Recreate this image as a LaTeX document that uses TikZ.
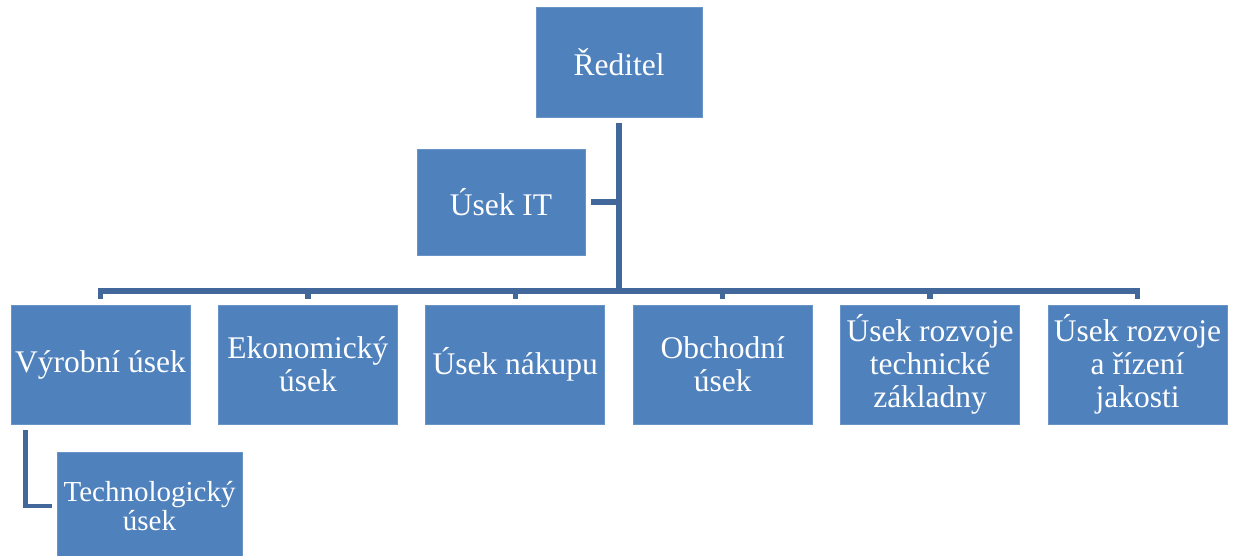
\documentclass[tikz,border=0pt]{standalone}
\usepackage{fontspec}
\setmainfont{Liberation Serif}
\definecolor{boxblue}{HTML}{4F81BD}
\definecolor{linkblue}{HTML}{41679B}
\tikzset{
  orgbox/.style={fill=boxblue, draw=boxblue!85!white, line width=0.8pt, text=white, align=center,
    inner sep=0pt, font=\fontsize{31.5}{33}\selectfont},
  conn/.style={draw=linkblue, line width=5.5pt, line join=miter},
  subconn/.style={draw=linkblue, line width=4.5pt, line join=miter}
}
\begin{document}
\begin{tikzpicture}[x=1pt,y=-1pt]
\clip (0,0) rectangle (1238,555);
\fill[white] (0,0) rectangle (1238,555);
% top boxes
\node[orgbox, minimum width=166pt, minimum height=110pt] (red) at (619,62) {Ředitel};
\node[orgbox, minimum width=168pt, minimum height=106pt] (it) at (501,202) {Úsek IT};
% row
\foreach \i/\name/\txt in {0/c1/{Výrobní úsek},1/c2/{Ekonomický\\úsek},2/c3/{Úsek nákupu},3/c4/{Obchodní\\úsek},4/c5/{Úsek rozvoje\\technické\\základny},5/c6/{Úsek rozvoje\\a řízení\\jakosti}}{
  \node[orgbox, minimum width=179pt, minimum height=119pt] (\name) at ({100.5+\i*207.4},364.5) {\txt};
}
\node[orgbox, minimum width=185pt, minimum height=108pt, font=\fontsize{29}{29.5}\selectfont] (tech) at (149.5,506) {Technologický\\úsek};
% connectors
\coordinate (bus) at (619,291);
\coordinate (itj) at (619,202);
\draw[conn] ([yshift=-6pt]red.south) -- (bus);
\draw[conn] ([xshift=6pt]it.east) -- (itj);
\foreach \c in {c1,c2,c3,c4,c5,c6}{
  \draw[conn] (bus) -| ([yshift=6pt]\c.north);
}
\draw[subconn] ([xshift=15pt,yshift=-6pt]c1.south west) |- ([xshift=-5pt]tech.west);
\end{tikzpicture}
\end{document}
